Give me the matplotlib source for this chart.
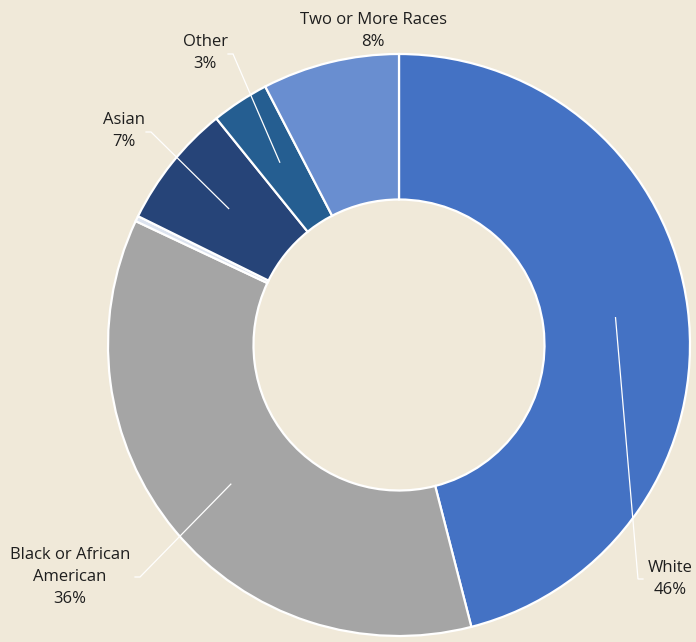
import numpy as np
import matplotlib
matplotlib.use('Agg')
import matplotlib.pyplot as plt

# shares in percent, clockwise from 12 o'clock
categories = ['White', 'Black or African\nAmerican', 'American Indian', 'Asian', 'Other', 'Two or More Races']
shares = [46.0, 36.0, 0.3, 6.9, 3.2, 7.6]
pct_labels = ['46%', '36%', '', '7%', '3%', '8%']
colors = ['#4472C4', '#A5A5A5', '#DCE3EF', '#264478', '#255E91', '#698ED0']

BG = '#F0E9D9'
W, H = 696, 642


def py(y):
    # pixel row -> data y
    return H - y


fig = plt.figure(figsize=(W / 100, H / 100), dpi=100, facecolor=BG)
ax = fig.add_axes([0, 0, 1, 1])
ax.set_facecolor(BG)

cx, cy, R = 399, py(345), 291
ax.pie(shares, colors=colors, startangle=90, counterclock=False,
       center=(cx, cy), radius=R,
       wedgeprops=dict(width=R * 0.5, edgecolor='white', linewidth=1.6))
ax.set_xlim(0, W)
ax.set_ylim(0, H)
ax.axis('off')

# label text position and leader elbow (pixel coords), None = no leader
layout = {
    0: dict(text=(670, 579), elbow=[(638, 579), (643, 579)]),
    1: dict(text=(70, 577), elbow=[(140, 577), (135, 577)]),
    3: dict(text=(124, 131), elbow=[(151, 132), (146, 132)]),
    4: dict(text=(205, 53), elbow=[(233, 54), (228, 54)]),
    5: dict(text=(373, 31), elbow=None),
}

cum = np.cumsum([0] + shares) / sum(shares)
r_mid = R * 0.75
for i, spec in layout.items():
    mid = (cum[i] + cum[i + 1]) / 2 * 2 * np.pi
    ax_x = cx + r_mid * np.sin(mid)
    ax_y = cy + r_mid * np.cos(mid)
    if spec['elbow']:
        xs = [ax_x] + [p[0] for p in spec['elbow']]
        ys = [ax_y] + [py(p[1]) for p in spec['elbow']]
        ax.plot(xs, ys, color='white', lw=0.9, solid_joinstyle='miter')
    tx, ty = spec['text']
    ax.text(tx, py(ty), categories[i] + '\n' + pct_labels[i], ha='center', va='center',
            fontsize=12, family='Open Sans', color='#1E1E1E', linespacing=1.5)

fig.savefig('out.png', dpi=100, facecolor=BG)
